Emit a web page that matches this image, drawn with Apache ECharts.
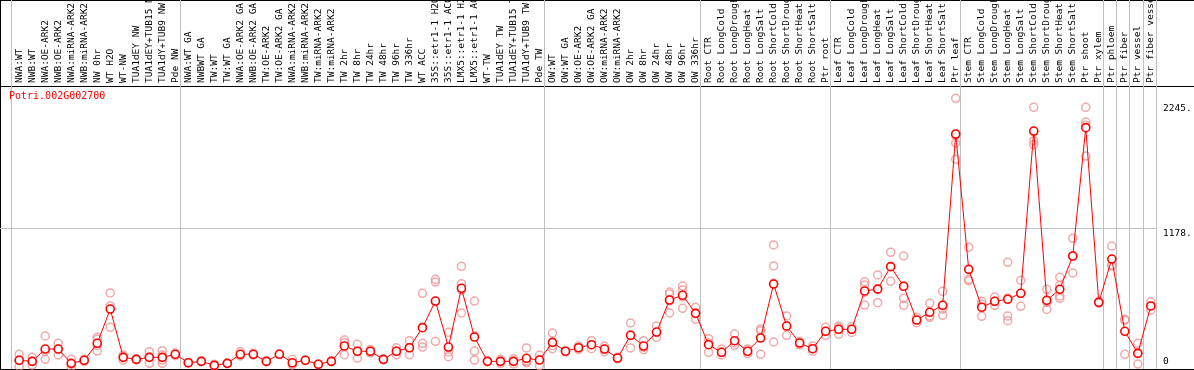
<!DOCTYPE html>
<html><head><meta charset="utf-8">
<script src="https://cdn.jsdelivr.net/npm/echarts@6/dist/echarts.min.js"></script>
<style>html,body{margin:0;padding:0;background:#fff;overflow:hidden}#c{width:1194px;height:370px}</style>
</head><body><div id="c"></div>
<script>
const chartTitle = 'Potri.002G002700';

const categories = [
  'NWA:WT','NWB:WT','NWA:OE-ARK2','NWB:OE-ARK2','NWA:miRNA-ARK2','NWB:miRNA-ARK2','NW 0hr','WT H2O','WT-NW',
  'TUA1dEY NW','TUA1dEY+TUB15 NW','TUA1dY+TUB9 NW','Pde NW',
  'NWA:WT GA','NWBWT GA','TW:WT','TW:WT GA','NWA:OE-ARK2 GA','NWB:OE-ARK2 GA','TW:OE-ARK2','TW:OE-ARK2 GA',
  'NWA:miRNA-ARK2','NWB:miRNA-ARK2','TW:miRNA-ARK2','TW:miRNA-ARK2','TW 2hr','TW 8hr','TW 24hr','TW 48hr','TW 96hr','TW 336hr',
  'WT ACC','35S::etr1-1 H2O','35S::etr1-1 ACC','LMX5::etr1-1 H2O','LMX5::etr1-1 ACC','WT-TW','TUA1dEY TW','TUA1dEY+TUB15 TW','TUA1dY+TUB9 TW','Pde TW',
  'OW:WT','OW:WT GA','OW:OE-ARK2','OW:OE-ARK2 GA','OW:miRNA-ARK2','OW:miRNA-ARK2','OW 2hr','OW 8hr','OW 24hr','OW 48hr','OW 96hr','OW 336hr',
  'Root CTR','Root LongCold','Root LongDrought','Root LongHeat','Root LongSalt','Root ShortCold','Root ShortDrought','Root ShortHeat','Root ShortSalt','Ptr root',
  'Leaf CTR','Leaf LongCold','Leaf LongDrought','Leaf LongHeat','Leaf LongSalt','Leaf ShortCold','Leaf ShortDrought','Leaf ShortHeat','Leaf ShortSalt','Ptr leaf',
  'Stem CTR','Stem LongCold','Stem LongDrought','Stem LongHeat','Stem LongSalt','Stem ShortCold','Stem ShortDrought','Stem ShortHeat','Stem ShortSalt','Ptr shoot',
  'Ptr xylem','Ptr phloem','Ptr fiber','Ptr vessel','Ptr fiber vessel'
];

const means = [
  53,44,149,149,27,53,198,490,78,61,78,78,104,
  32,44,10,27,104,104,44,104,32,53,19,44,175,130,130,61,130,160,331,558,166,667,251,44,44,44,70,55,
  206,130,160,186,149,72,266,175,294,567,607,453,
  186,121,220,130,243,703,345,200,152,300,
  317,317,644,660,851,684,396,462,522,1982,
  828,505,556,573,624,2007,564,658,942,2036,
  547,916,300,112,516
];

const replicates = [
  [104,55,0],[78,44,13],[260,130,61],[198,150,98],[61,20,0],[61,55,42],[249,232,132,180],[627,516,334],[98,80,55],
  [66,61,56],[126,82,27],[135,98,55,27],[115,92],
  [35,29],[47,41],[20,0],[30,24],[126,90,96],[112,96],[47,41],[106,102],
  [61,22,13],[55,51],[22,16],[47,41],[226,203,101],[189,130,72],[145,130,115],[64,58],[160,130,101],[220,160,101],
  [624,336,198,166],[743,720,555,215],[291,160,124,84],[854,706,650,456],[558,260,132,55],[47,41],[61,44,27],[66,44,22],[158,50,38,34],[98,60,7],
  [285,180,152],[135,125],[175,145],[220,186,152],[172,149,126],[80,72,64],[371,268,158],[220,162,143],[345,289,249],[635,618,456,560],[686,652,496,594],[505,453,402],
  [237,200,121],[149,121,98],[277,203,181],[150,130,110],[320,305,104],[1036,857,709,209],[430,345,266],[215,200,185],[175,152,130],[334,300,266],
  [345,330,276],[340,317,290],[723,695,633,524],[780,661,544],[973,851,726],[942,684,581,522],[420,396,373],[539,430,419],[641,522,490,436],[2286,1905,1766,1971],
  [1016,743,731],[556,530,428],[592,556,522],[888,430,390,585],[735,624,513],[2209,1925,1891,2003],[658,547,487],[760,601,581,690],[1093,942,797],[2209,2084,1794,2057],
  [555,540],[1027,865,856],[402,394,104],[198,117,21],[552,516,482]
];

const yTickValues = [0, 1178, 2245];
const yTickLabels = ['0', '1178.', '2245.'];
const gridLineValue = 1178;
// group separators (category boundaries)
const groupBoundaries = [-0.5, 12.5, 40.5, 52.5, 62.5, 72.5, 83.5, 84.5, 85.5, 86.5, 87.5];

// ---- layout / style ----
const X_MIN = -1.476, X_MAX = 90.32;
const Y_MIN = -21.2, Y_MAX = 3124;
const SEP_SHIFT = -0.12;
const FONT = 'DejaVu Sans Mono';
const RED = '#ff0000';
const PINK = '#ee9494';
const GRAY = '#c0c0c0';

const yLabelOf = v => {
  const k = yTickValues.indexOf(v);
  return k >= 0 ? yTickLabels[k] : '';
};

const xBase = {
  type: 'value', min: X_MIN, max: X_MAX, gridIndex: 0,
  splitLine: {show: false}, axisTick: {show: false}, axisLabel: {show: false},
  axisLine: {show: true, onZero: false, lineStyle: {color: '#000', width: 1}}
};
const yBase = {
  type: 'value', min: Y_MIN, max: Y_MAX, gridIndex: 0,
  splitLine: {show: false}, axisTick: {show: false}, axisLabel: {show: false},
  axisLine: {show: false, onZero: false}
};

const repData = [];
replicates.forEach((arr, i) => arr.forEach(v => repData.push([i, v])));

const chart = echarts.init(document.getElementById('c'), null, {renderer: 'canvas'});
chart.setOption({
  animation: false,
  backgroundColor: '#fff',
  title: {
    text: chartTitle, left: 9, top: 91, padding: 0,
    textStyle: {color: RED, fontFamily: FONT, fontSize: 10, fontWeight: 'normal'}
  },
  grid: {left: 0, right: 0, top: 0, bottom: 1, containLabel: false, outerBoundsMode: 'none'},
  xAxis: [
    Object.assign({}, xBase, {position: 'top'}),
    Object.assign({}, xBase, {
      position: 'top', offset: -86,
      axisLabel: {
        show: true, customValues: categories.map((_, i) => i), interval: 0, hideOverlap: false,
        formatter: v => categories[Math.round(v)] || '',
        rotate: -90, margin: 3, fontFamily: FONT, fontSize: 9.5, color: '#000'
      }
    }),
    Object.assign({}, xBase, {position: 'bottom'})
  ],
  yAxis: [
    Object.assign({}, yBase, {position: 'left', axisLine: {show: true, onZero: false, lineStyle: {color: '#000', width: 1}}}),
    Object.assign({}, yBase, {
      position: 'right', offset: -38,
      axisLabel: {
        show: true, customValues: yTickValues.filter(v => v !== 0), formatter: yLabelOf,
        verticalAlign: 'top', align: 'left', margin: 7, fontFamily: FONT, fontSize: 9.5, color: '#000'
      }
    }),
    Object.assign({}, yBase, {
      position: 'right', offset: -38,
      axisLabel: {
        show: true, customValues: yTickValues.filter(v => v === 0), formatter: yLabelOf,
        verticalAlign: 'bottom', align: 'left', margin: 7, fontFamily: FONT, fontSize: 9.5, color: '#000'
      }
    })
  ],
  series: [
    {
      type: 'line', xAxisIndex: 1, yAxisIndex: 0, data: [], silent: true, z: 1,
      markLine: {
        silent: true, symbol: 'none', z: 1, animation: false,
        label: {show: false},
        lineStyle: {color: GRAY, type: 'solid', width: 1},
        data: groupBoundaries.map(b => ({xAxis: b + SEP_SHIFT})).concat([
          [{coord: [X_MIN, gridLineValue]}, {coord: [groupBoundaries[groupBoundaries.length - 1] + SEP_SHIFT, gridLineValue]}]
        ])
      }
    },
    {
      type: 'scatter', xAxisIndex: 1, yAxisIndex: 0, data: repData, silent: true, z: 2,
      symbol: 'circle', symbolSize: 8,
      itemStyle: {color: 'rgba(255,255,255,0)', borderColor: PINK, borderWidth: 1.5}
    },
    {
      type: 'line', xAxisIndex: 1, yAxisIndex: 0, data: means.map((m, i) => [i, m]), silent: true, z: 3,
      symbol: 'circle', symbolSize: 8, showSymbol: true,
      lineStyle: {color: RED, width: 1},
      itemStyle: {color: '#fff', borderColor: RED, borderWidth: 1.6}
    }
  ]
});
</script>
</body></html>
